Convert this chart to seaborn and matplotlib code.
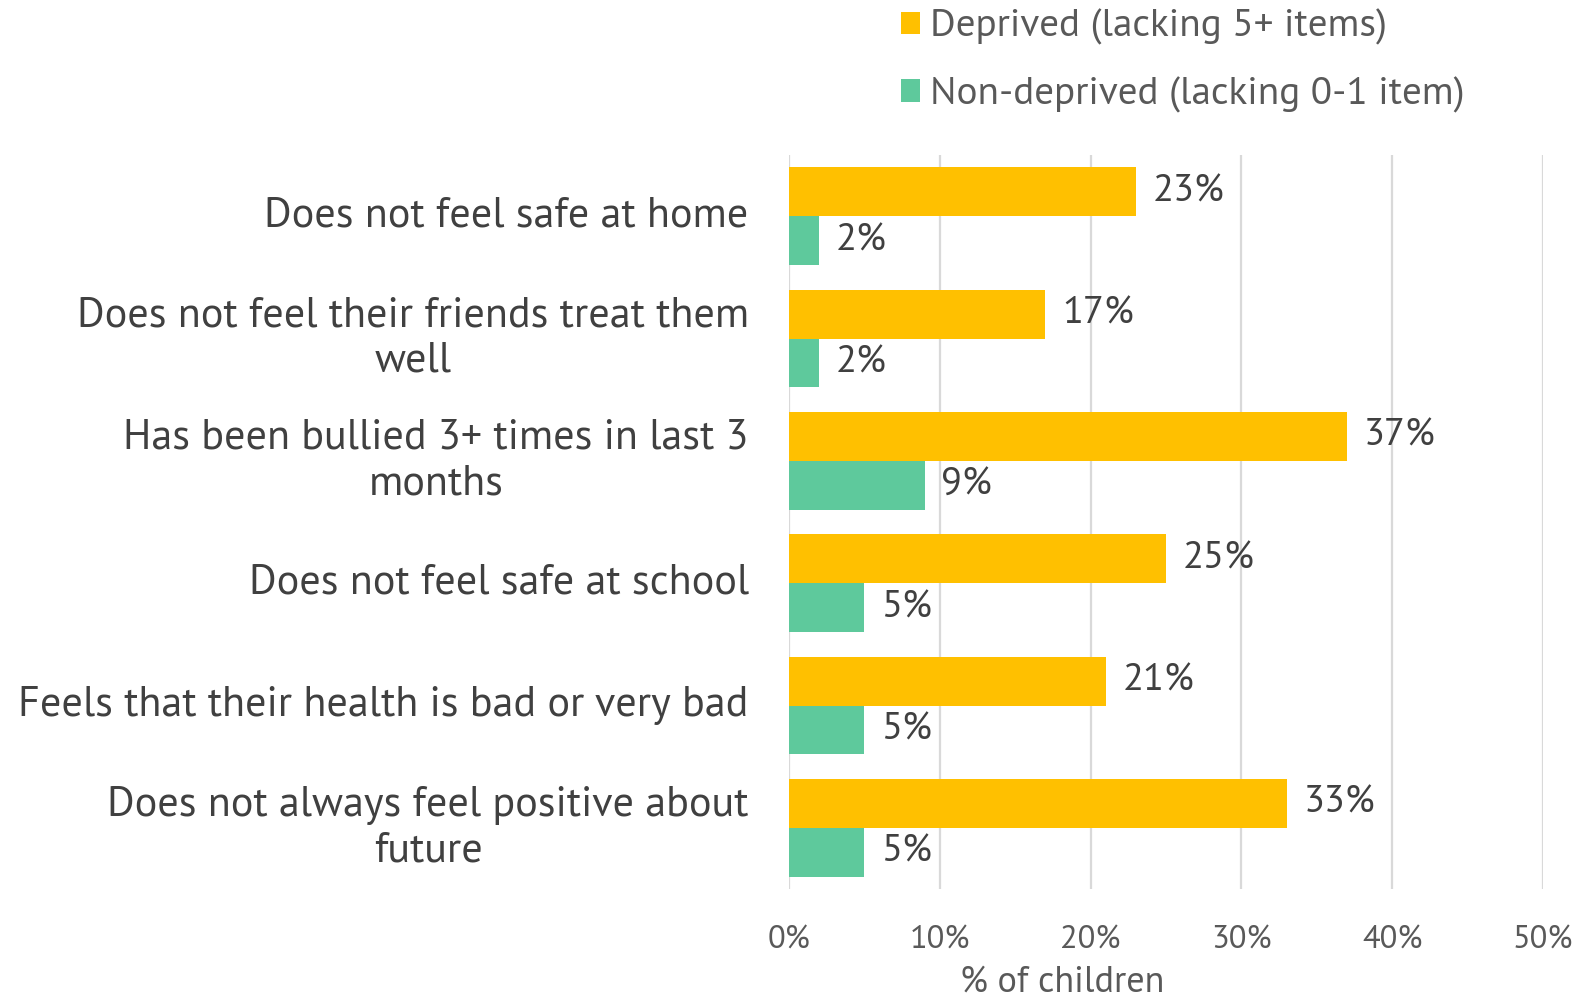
import matplotlib
matplotlib.use("Agg")
import matplotlib.pyplot as plt
from matplotlib import font_manager
from matplotlib.textpath import TextPath
from matplotlib.font_manager import FontProperties
import seaborn as sns
import pandas as pd

# Survey indicators (top to bottom) and the share of children for each group
categories = [
    "Does not feel safe at home",
    "Does not feel their friends treat them\nwell",
    "Has been bullied 3+ times in last 3\nmonths",
    "Does not feel safe at school",
    "Feels that their health is bad or very bad",
    "Does not always feel positive about\nfuture",
]
series_names = ["Deprived (lacking 5+ items)", "Non-deprived (lacking 0-1 item)"]
deprived = [23, 17, 37, 25, 21, 33]
non_deprived = [2, 2, 9, 5, 5, 5]
x_ticks = [0, 10, 20, 30, 40, 50]
x_tick_labels = ["0%", "10%", "20%", "30%", "40%", "50%"]
x_title = "% of children"

palette = ["#FFC000", "#5EC99C"]
dark_text = "#404040"
mid_text = "#595959"
grid_col = "#D9D9D9"

# Pick a clean humanist sans face for the labels
available = {f.name for f in font_manager.fontManager.ttflist}
faces = ["PT Sans", "Source Sans 3", "Source Sans Pro", "Fira Sans", "DejaVu Sans"]
face = next((f for f in faces if f in available), "DejaVu Sans")

sns.set_theme(style="white")
plt.rcParams["font.family"] = [face, "DejaVu Sans"]


def size_for(text, width_px, dpi=100):
    """Font size (pt) at which `text` spans about width_px pixels."""
    prop = FontProperties(family=[face, "DejaVu Sans"], size=10)
    w = TextPath((0, 0), text, prop=prop).get_extents().width  # in points at 10pt
    return 10 * width_px / (w * dpi / 72)


cat_size = size_for(categories[0], 478)
val_size = size_for("37%", 67)
tick_size = size_for("10%", 57)
leg_size = size_for(series_names[0], 452)
title_size = size_for(x_title, 200)

df = pd.DataFrame({
    "category": categories * 2,
    "group": [series_names[0]] * len(categories) + [series_names[1]] * len(categories),
    "value": deprived + non_deprived,
})

fig = plt.figure(figsize=(15.8, 9.99), dpi=100)
ax = fig.add_axes([789 / 1580, 1 - 889 / 999, (1543 - 789) / 1580, (889 - 155) / 999])

sns.barplot(
    data=df, y="category", x="value", hue="group", order=categories,
    hue_order=series_names, palette=palette, orient="h", width=0.8,
    saturation=1, dodge=True, ax=ax, linewidth=0, errorbar=None,
)

ax.set_xlim(0, 50)
ax.set_xticks(x_ticks)
ax.set_xticklabels(x_tick_labels)
ax.set_xlabel("")
ax.set_ylabel("")
ax.grid(axis="x", color=grid_col, linewidth=1.6)
ax.set_axisbelow(True)
for side in ["top", "right", "bottom", "left"]:
    ax.spines[side].set_visible(False)
ax.tick_params(axis="x", length=0, pad=26, labelsize=tick_size, labelcolor=mid_text)
ax.tick_params(axis="y", length=0, pad=29, labelsize=cat_size, labelcolor=dark_text)
for t in ax.get_yticklabels():
    t.set_multialignment("center")
    t.set_linespacing(1.22)
    t.set_verticalalignment("center")

# Value labels at the end of every bar
for container, vals in zip(ax.containers, [deprived, non_deprived]):
    ax.bar_label(container, labels=[f"{v}%" for v in vals], padding=12,
                 fontsize=val_size, color=dark_text)

fig.text(1062 / 1580, 1 - 982 / 999, x_title, ha="center", va="center",
         fontsize=title_size, color=mid_text)

sns.move_legend(
    ax, "upper left", bbox_to_anchor=(0.570, 1 - 9 / 999), bbox_transform=fig.transFigure,
    frameon=False, title=None, fontsize=leg_size, handlelength=0.5, handleheight=0.5,
    handletextpad=0.25, labelspacing=0.8, borderpad=0, borderaxespad=0,
)
for txt in ax.get_legend().get_texts():
    txt.set_color(mid_text)

fig.savefig("out.png", dpi=100)
